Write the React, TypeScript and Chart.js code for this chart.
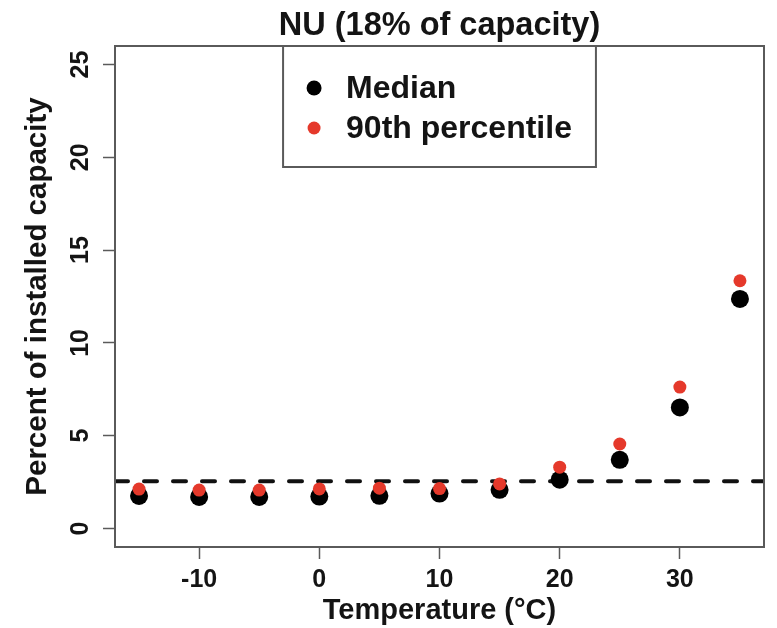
import React, { useEffect, useRef } from 'react';
import { Chart, registerables } from 'chart.js';

Chart.register(...registerables);

const temperatures = [-15, -10, -5, 0, 5, 10, 15, 20, 25, 30, 35];
const medianValues = [1.75, 1.7, 1.7, 1.72, 1.76, 1.88, 2.08, 2.63, 3.7, 6.52, 12.37];
const p90Values = [2.12, 2.07, 2.07, 2.13, 2.17, 2.15, 2.4, 3.3, 4.55, 7.62, 13.35];
const referenceLevel = 2.55;
const xLimits = [-17, 37];
const yLimits = [-1, 26];
const xTicks = [-10, 0, 10, 20, 30];
const yTicks = [0, 5, 10, 15, 20, 25];
const seriesLabels = ['Median', '90th percentile'];
const titleText = 'NU (18% of capacity)';
const xTitle = 'Temperature (°C)';
const yTitle = 'Percent of installed capacity';

const FONT = "'Liberation Sans', Arial, Helvetica, sans-serif";
const TEXT = '#141414';
const AXIS = '#5a5a5a';
const RED = '#e5392b';

const decorPlugin = {
  id: 'decor',
  afterDatasetsDraw(chart: any) {
    const { ctx, chartArea } = chart;
    const yScale = chart.scales.y;
    ctx.save();
    // plot box
    ctx.strokeStyle = AXIS;
    ctx.lineWidth = 2;
    ctx.strokeRect(chartArea.left, chartArea.top, chartArea.right - chartArea.left, chartArea.bottom - chartArea.top);

    // rotated y tick labels
    ctx.fillStyle = TEXT;
    ctx.font = `bold 25px ${FONT}`;
    ctx.textAlign = 'center';
    ctx.textBaseline = 'middle';
    yScale.ticks.forEach((t: any) => {
      const py = yScale.getPixelForValue(t.value);
      ctx.save();
      ctx.translate(chartArea.left - 34, py);
      ctx.rotate(-Math.PI / 2);
      ctx.fillText(String(t.value), 0, 0);
      ctx.restore();
    });

    // title
    const cx = (chartArea.left + chartArea.right) / 2;
    ctx.font = `bold 32.5px ${FONT}`;
    ctx.fillText(titleText, cx, chartArea.top - 20);

    // legend
    const items = chart.data.datasets.filter((d: any) => d.label);
    ctx.font = `bold 32px ${FONT}`;
    const maxW = Math.max(...items.map((d: any) => ctx.measureText(d.label).width));
    const boxW = 63 + maxW + 24;
    const boxH = 121;
    const bx = cx - boxW / 2;
    const by = chartArea.top;
    ctx.fillStyle = '#ffffff';
    ctx.fillRect(bx, by, boxW, boxH);
    ctx.strokeStyle = AXIS;
    ctx.lineWidth = 2;
    ctx.strokeRect(bx, by, boxW, boxH);
    items.forEach((d: any, i: number) => {
      const ry = by + 42 + i * 40;
      ctx.beginPath();
      ctx.fillStyle = d.backgroundColor;
      ctx.arc(bx + 31, ry, i === 0 ? 7.5 : 6.5, 0, Math.PI * 2);
      ctx.fill();
      ctx.fillStyle = TEXT;
      ctx.textAlign = 'left';
      ctx.textBaseline = 'middle';
      ctx.fillText(d.label, bx + 63, ry + 1);
    });
    ctx.restore();
  },
};

export default function App() {
  const ref = useRef<HTMLCanvasElement | null>(null);

  useEffect(() => {
    if (!ref.current) return;
    const chart = new Chart(ref.current, {
      type: 'scatter',
      data: {
        datasets: [
          {
            label: seriesLabels[0],
            data: temperatures.map((x, i) => ({ x, y: medianValues[i] })),
            backgroundColor: '#000000',
            borderColor: '#000000',
            pointRadius: 9,
            pointBorderWidth: 0,
            order: 1,
          },
          {
            label: seriesLabels[1],
            data: temperatures.map((x, i) => ({ x, y: p90Values[i] })),
            backgroundColor: RED,
            borderColor: RED,
            pointRadius: 6.5,
            pointBorderWidth: 0,
            order: 0,
          },
          {
            label: '',
            data: [
              { x: xLimits[0], y: referenceLevel },
              { x: xLimits[1], y: referenceLevel },
            ],
            showLine: true,
            borderColor: '#111111',
            borderWidth: 4,
            borderDash: [13, 16],
            borderCapStyle: 'round',
            pointRadius: 0,
            order: 2,
          } as any,
        ],
      },
      options: {
        animation: false,
        responsive: false,
        devicePixelRatio: 1,
        layout: { padding: { top: 46, left: 0, right: 13, bottom: 0 } },
        plugins: {
          legend: { display: false },
          title: { display: false },
          tooltip: { enabled: false },
        },
        scales: {
          x: {
            type: 'linear',
            min: xLimits[0],
            max: xLimits[1],
            afterBuildTicks: (s: any) => {
              s.ticks = xTicks.map((v) => ({ value: v }));
            },
            afterFit: (s: any) => {
              s.height = 81;
            },
            grid: {
              display: true,
              drawOnChartArea: false,
              drawTicks: true,
              tickLength: 12,
              tickColor: AXIS,
              tickWidth: 1.5,
              color: AXIS,
            },
            border: { display: false },
            ticks: {
              color: TEXT,
              font: { family: FONT, size: 25, weight: 'bold', lineHeight: 1.2 },
              padding: 6,
              maxRotation: 0,
              autoSkip: false,
            },
            title: {
              display: true,
              text: xTitle,
              color: TEXT,
              font: { family: FONT, size: 29, weight: 'bold', lineHeight: 1.2 },
              padding: { top: 0, bottom: 0 },
            },
          },
          y: {
            type: 'linear',
            min: yLimits[0],
            max: yLimits[1],
            afterBuildTicks: (s: any) => {
              s.ticks = yTicks.map((v) => ({ value: v }));
            },
            afterFit: (s: any) => {
              s.width = 115;
            },
            grid: {
              display: true,
              drawOnChartArea: false,
              drawTicks: true,
              tickLength: 12,
              tickColor: AXIS,
              tickWidth: 1.5,
              color: AXIS,
            },
            border: { display: false },
            ticks: { display: false },
            title: {
              display: true,
              text: yTitle,
              color: TEXT,
              font: { family: FONT, size: 29.5, weight: 'bold', lineHeight: 1.2 },
              padding: { top: 20, bottom: 0 },
            },
          },
        },
      },
      plugins: [decorPlugin],
    });
    return () => chart.destroy();
  }, []);

  return (
    <div style={{ position: 'fixed', left: 0, top: 0, width: 777, height: 628, background: '#ffffff' }}>
      <canvas ref={ref} width={777} height={628} style={{ width: 777, height: 628, display: 'block' }} />
    </div>
  );
}
